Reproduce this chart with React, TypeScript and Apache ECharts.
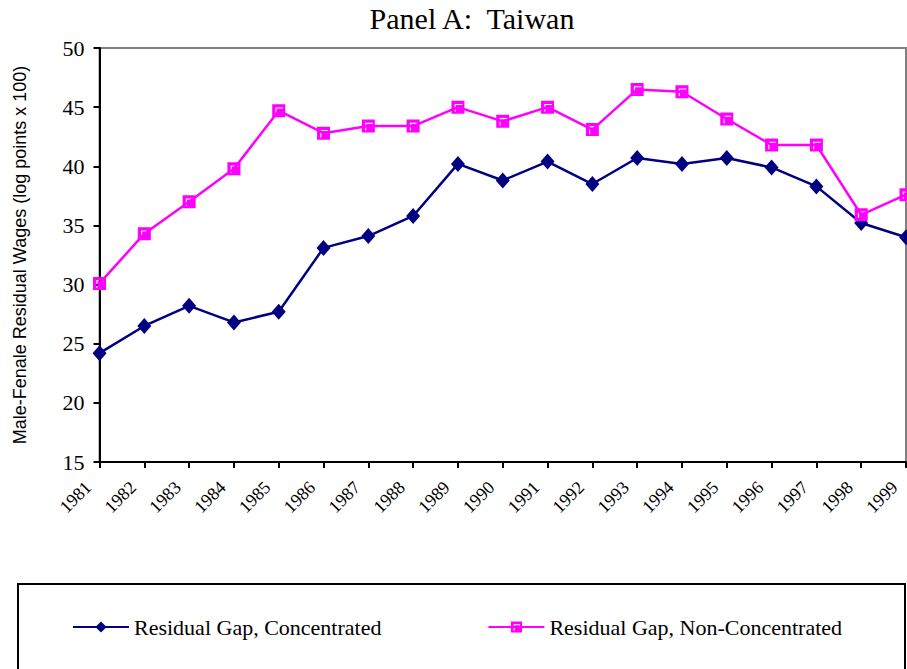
import React, { useEffect, useRef } from "react";
import * as echarts from "echarts";

const years = ["1981","1982","1983","1984","1985","1986","1987","1988","1989","1990","1991","1992","1993","1994","1995","1996","1997","1998","1999"];
const concentrated = [24.2, 26.5, 28.2, 26.8, 27.7, 33.1, 34.1, 35.8, 40.2, 38.8, 40.4, 38.5, 40.7, 40.2, 40.7, 39.9, 38.3, 35.2, 34.0];
const nonConcentrated = [30.1, 34.3, 37.0, 39.8, 44.7, 42.8, 43.4, 43.4, 45.0, 43.8, 45.0, 43.1, 46.5, 46.3, 44.0, 41.8, 41.8, 35.9, 37.6];
const seriesNames = ["Residual Gap, Concentrated", "Residual Gap, Non-Concentrated"];
const titleText = "Panel A:  Taiwan";
const yAxisName = "Male-Fenale Residual Wages (log points x 100)";

const squareSymbol = "path://M0 0 H12 V12 H0 Z M3 3 V10 H4 V4 H10 V3 Z";

export default function App() {
  const ref = useRef<HTMLDivElement>(null);
  useEffect(() => {
    if (!ref.current) return;
    const chart = echarts.init(ref.current, null, { renderer: "svg" });
    chart.setOption({
      animation: false,
      backgroundColor: "#ffffff",
      title: {
        text: titleText,
        left: 472,
        textAlign: "center",
        top: 3,
        padding: 0,
        textStyle: { fontFamily: "Liberation Serif", fontSize: 30, fontWeight: "normal", color: "#000" },
      },
      grid: {
        left: 99.5,
        right: 1,
        top: 48,
        bottom: 207,
        containLabel: false,
        outerBoundsMode: "none",
        show: true,
        borderColor: "#808080",
        borderWidth: 2,
        backgroundColor: "transparent",
      },
      legend: {
        data: seriesNames,
        left: 72,
        top: 616,
        padding: 0,
        itemWidth: 56,
        itemHeight: 14,
        itemGap: 106,
        textStyle: { fontFamily: "Liberation Serif", fontSize: 22, color: "#000" },
      },
      xAxis: {
        type: "category",
        data: years,
        boundaryGap: false,
        axisLine: { lineStyle: { color: "#000", width: 2 } },
        axisTick: { show: true, length: 6, lineStyle: { color: "#000", width: 2 }, interval: 0 },
        axisLabel: {
          interval: 0,
          rotate: 45,
          margin: 11,
          padding: [0, 16, 0, 0],
          fontFamily: "Liberation Serif",
          fontSize: 18,
          color: "#000",
        },
        splitLine: { show: false },
      },
      yAxis: {
        type: "value",
        min: 15,
        max: 50,
        interval: 5,
        name: yAxisName,
        nameLocation: "middle",
        nameRotate: 90,
        nameGap: 71,
        nameTextStyle: { fontFamily: "Liberation Sans", fontSize: 18, color: "#000" },
        axisLine: { show: true, lineStyle: { color: "#000", width: 2 } },
        axisTick: { show: true, length: 6, lineStyle: { color: "#000", width: 2 } },
        axisLabel: { margin: 15, fontFamily: "Liberation Serif", fontSize: 22, color: "#000" },
        splitLine: { show: false },
      },
      series: [
        {
          name: seriesNames[0],
          type: "line",
          data: concentrated,
          symbol: "diamond",
          symbolSize: [14, 16],
          lineStyle: { color: "#000080", width: 2.5 },
          itemStyle: { color: "#000080" },
        },
        {
          name: seriesNames[1],
          type: "line",
          data: nonConcentrated,
          symbol: squareSymbol,
          symbolSize: 13,
          lineStyle: { color: "#ff00ff", width: 2.5 },
          itemStyle: { color: "#ff00ff" },
        },
      ],
      graphic: [
        {
          type: "rect",
          shape: { x: 18, y: 584, width: 887, height: 120 },
          style: { fill: "none", stroke: "#000", lineWidth: 2 },
          silent: true,
        },
      ],
    });
    return () => chart.dispose();
  }, []);
  return (
    <div
      ref={ref}
      style={{ position: "fixed", left: 0, top: 0, width: 907, height: 669, background: "#fff" }}
    />
  );
}
